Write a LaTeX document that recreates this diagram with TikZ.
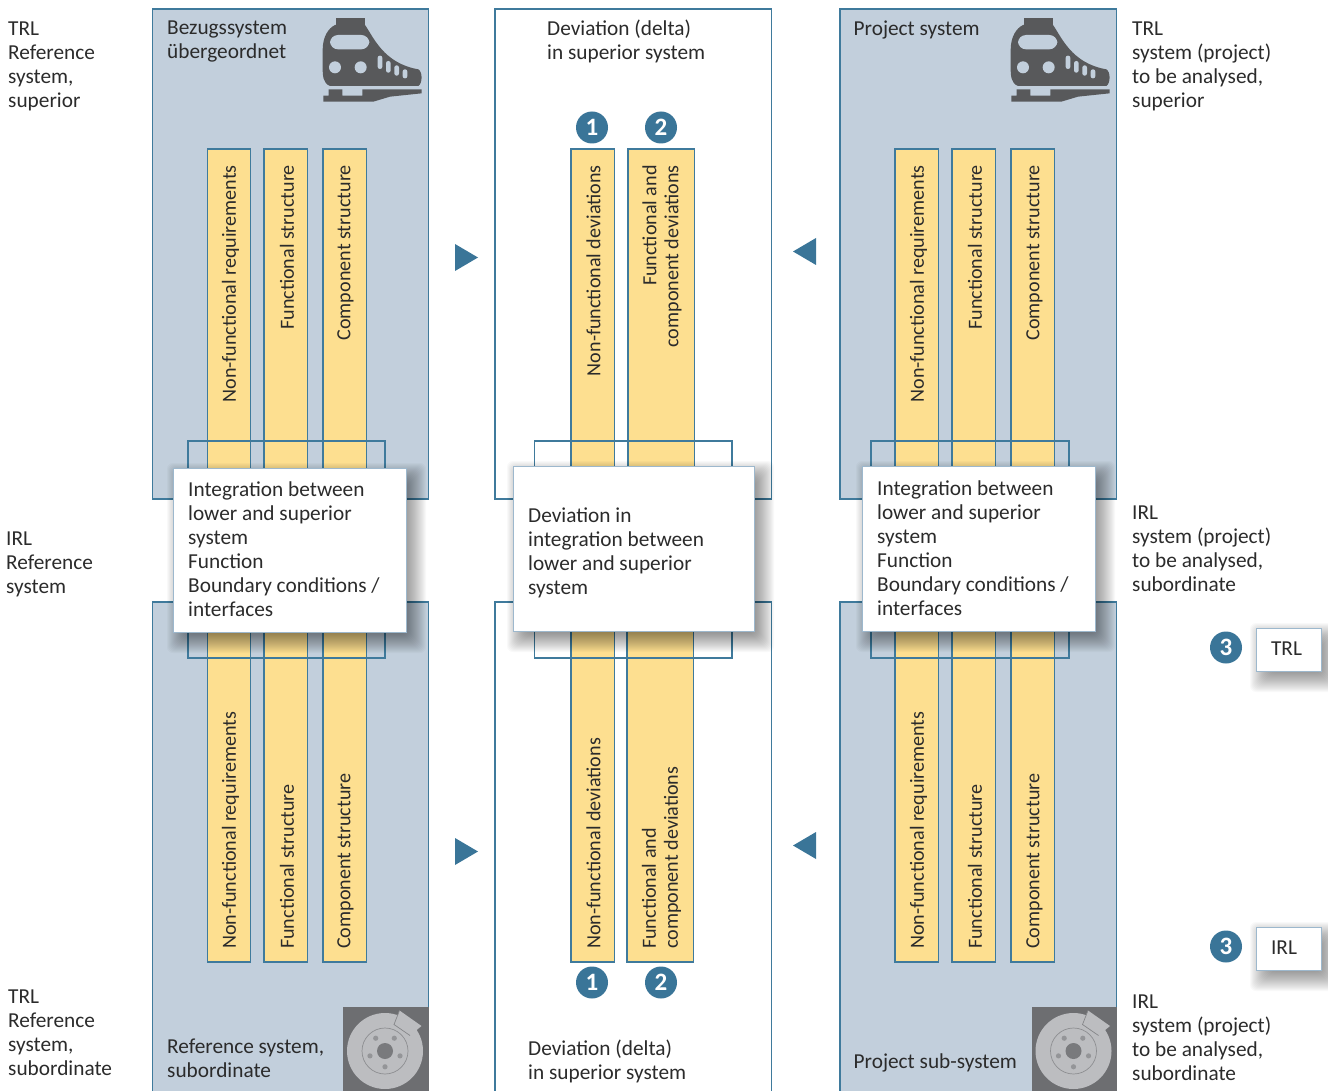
\documentclass[tikz,border=0pt]{standalone}
\usepackage{fontspec}
\setmainfont{Carlito}
\definecolor{panelc}{HTML}{C2CFDC}
\definecolor{linec}{HTML}{3F7A9C}
\definecolor{barc}{HTML}{FDDF90}
\definecolor{boxc}{HTML}{9DB8CD}
\definecolor{markc}{HTML}{3A7598}
\definecolor{iconc}{HTML}{58595B}
\definecolor{brakebg}{HTML}{6D6E71}
\definecolor{brakefg}{HTML}{BCBDC0}
\definecolor{txt}{HTML}{2B2B2B}
\newcommand{\mainsize}{\fontsize{21.3}{24}\selectfont}
\newcommand{\vertsize}{\fontsize{20.1}{22}\selectfont}
\newcommand{\marksize}{\fontsize{25}{25}\selectfont}
\tikzset{
  every node/.style={text=txt,font=\mainsize},
  panelblue/.style={draw=linec,line width=1.25pt,fill=panelc},
  panelwhite/.style={draw=linec,line width=1.25pt,fill=white},
  barbox/.style={draw=linec,line width=1.25pt,fill=barc},
  innerbox/.style={draw=linec,line width=1.25pt},
  whitebox/.style={draw=boxc,line width=1.4pt,fill=white,inner sep=0pt,anchor=north west},
  lbl/.style={anchor=north west,align=left,inner sep=0pt},
  vtop/.style={rotate=90,anchor=east,inner sep=0pt,font=\vertsize},
  vbot/.style={rotate=90,anchor=west,inner sep=0pt,font=\vertsize},
  vtopm/.style={rotate=90,anchor=east,inner sep=0pt,align=right,font=\vertsize},
  vbotm/.style={rotate=90,anchor=west,inner sep=0pt,align=left,font=\vertsize},
  markdot/.style={circle,fill=markc,minimum size=32pt,inner sep=0pt,text=white,font=\bfseries\marksize},
  tri/.style={fill=markc},
}
\newcommand{\softshadow}[4]{%
  \foreach \k in {-10,...,13}{
    \fill[black,opacity=0.025,rounded corners=6pt]
      ({#1+7-\k},{#2+8-\k}) rectangle ({#3+7+\k},{#4+8+\k});
  }}
\newcommand{\trainicon}[1]{%
  \begin{scope}[shift={(#1,0)},scale=1/3]
    \fill[iconc] (557,55) rectangle (645,80);
    \fill[iconc] (555,75) -- (645,75) .. controls (670,110) and (700,190) .. (805,208)
      .. controls (818,215) and (818,250) .. (805,258) -- (540,258)
      .. controls (518,250) and (518,225) .. (518,200) -- (518,150)
      .. controls (518,110) and (535,85) .. (555,75) -- cycle;
    \fill[panelc,rounded corners=8pt] (540,105) rectangle (658,148);
    \fill[panelc] (555,202) circle (18) (632,202) circle (18);
    \fill[panelc,rounded corners=2.2pt] (683,167) rectangle (697,207);
    \fill[panelc,rounded corners=2.2pt] (708,183) rectangle (722,218);
    \fill[panelc,rounded corners=2.2pt] (733,196) rectangle (747,227);
    \fill[panelc,rounded corners=2.2pt] (758,208) rectangle (772,235);
    \fill[iconc] (536,268) -- (577,268) -- (577,287) -- (637,287) -- (637,268) -- (815,268)
      -- (815,280) -- (720,290) -- (670,305) -- (520,305) -- (520,287) -- (536,287) -- cycle;
  \end{scope}}
\newcommand{\brakeicon}[1]{%
  \begin{scope}[shift={(#1,0)}]
    \fill[brakebg] (343,1007) rectangle (428.5,1091);
    \fill[brakefg] (385,1051) circle (38);
    \draw[brakebg!60!brakefg,line width=0.7pt] (385,1051) circle (23);
    \fill[brakebg!85!brakefg] (385,1051) circle (8);
    \foreach \a in {90,162,234,306,18}{\fill[brakebg!50!brakefg] (385,1051) ++(\a:15.8) circle (2.6);}
    \fill[brakefg] (399.5,1010.5) -- (421.5,1026) -- (410,1035.5) -- (394,1024.5) -- cycle;
    \draw[brakebg!70!brakefg,line width=0.7pt] (399.5,1010.5) -- (394,1024.5) -- (410,1035.5);
  \end{scope}}
\begin{document}
\begin{tikzpicture}[x=1pt,y=-1pt]
\useasboundingbox (0,0) rectangle (1328,1091);
% panels
\path[panelblue] (152.5,9) rectangle (428.5,499);
\path[panelblue] (152.5,602) rectangle (428.5,1100);
\path[panelwhite] (495,9) rectangle (771.5,499);
\path[panelwhite] (495,602) rectangle (771.5,1100);
\path[panelblue] (840,9) rectangle (1116.5,499);
\path[panelblue] (840,602) rectangle (1116.5,1100);
% bars
\foreach \a/\b in {207.5/250.5,264/307.5,323/366.5,895/938.5,952/995.5,1011/1054.5,571/614.5}{
  \path[barbox] (\a,149) rectangle (\b,962);
}
\path[barbox] (628,149) rectangle (694.5,550);
\path[barbox] (627,550) rectangle (693.5,962);
% inner rectangles
\path[innerbox] (188,441) rectangle (385,658);
\path[innerbox] (534.5,441) rectangle (732,658);
\path[innerbox] (871,441) rectangle (1069,658);
% icons
\trainicon{150}
\trainicon{838}
\brakeicon{0}
\brakeicon{688.5}
% shadows + boxes
\softshadow{173}{468}{406}{632}
\softshadow{513}{466}{754}{631}
\softshadow{862}{466}{1095}{631}
\softshadow{1256}{628}{1321}{671}
\softshadow{1256}{927}{1321}{970}
\node[whitebox,minimum width=233pt,minimum height=164pt] (boxa) at (173,468) {};
\node[whitebox,minimum width=240.5pt,minimum height=165pt] (boxb) at (513,466) {};
\node[whitebox,minimum width=232.5pt,minimum height=165pt] (boxc) at (862,466) {};
\node[whitebox,minimum width=64.5pt,minimum height=43pt] (trlbox) at (1256,628) {};
\node[whitebox,minimum width=64.5pt,minimum height=43pt] (irlbox) at (1256,927) {};
\node (trltxt) at (1286.5,649) {TRL};
\node (irltxt) at (1284,948) {IRL};
\node[lbl] (ta) at (188,482) {Integration between\\lower and superior\\system\\Function\\Boundary conditions /\\interfaces};
\node[lbl] (tb) at (528,507.5) {Deviation in\\integration between\\lower and superior\\system};
\node[lbl] (tc) at (877,481) {Integration between\\lower and superior\\system\\Function\\Boundary conditions /\\interfaces};
% panel titles
\node[lbl] (p1) at (167,21) {Bezugssystem\\übergeordnet};
\node[lbl] (p2) at (547,20) {Deviation (delta)\\in superior system};
\node[lbl] (p3) at (853.5,21) {Project system};
\node[lbl] (p4) at (167,1039) {Reference system,\\subordinate};
\node[lbl] (p5) at (528,1039.5) {Deviation (delta)\\in superior system};
\node[lbl] (p6) at (853.5,1054) {Project sub-system};
% side labels
\node[lbl] (s1) at (8,21.5) {TRL\\Reference\\system,\\superior};
\node[lbl] (s2) at (6,532) {IRL\\Reference\\system};
\node[lbl] (s3) at (8,989.5) {TRL\\Reference\\system,\\subordinate};
\node[lbl] (s4) at (1132,21.5) {TRL\\system (project)\\to be analysed,\\superior};
\node[lbl] (s5) at (1132,505.5) {IRL\\system (project)\\to be analysed,\\subordinate};
\node[lbl] (s6) at (1132,994.5) {IRL\\system (project)\\to be analysed,\\subordinate};
% vertical bar texts
\node[vtop] (v1) at (230.5,165) {Non-functional requirements};
\node[vtop] (v2) at (287,165) {Functional structure};
\node[vtop] (v3) at (345.5,165) {Component structure};
\node[vbot] (v4) at (230.5,949) {Non-functional requirements};
\node[vbot] (v5) at (287,949) {Functional structure};
\node[vbot] (v6) at (345.5,949) {Component structure};
\node[vtop] (v7) at (918.5,165) {Non-functional requirements};
\node[vtop] (v8) at (975,165) {Functional structure};
\node[vtop] (v9) at (1034.5,165) {Component structure};
\node[vbot] (v10) at (918.5,949) {Non-functional requirements};
\node[vbot] (v11) at (975,949) {Functional structure};
\node[vbot] (v12) at (1034.5,949) {Component structure};
\node[vtop] (v13) at (593.5,165) {Non-functional deviations};
\node[vbot] (v14) at (593.5,949) {Non-functional deviations};
\node[vtopm] (v15) at (662,165) {Functional and\\component deviations};
\node[vbotm] (v16) at (661.5,949) {Functional and\\component deviations};
% triangles
\fill[tri] (455,244) -- (455,271) -- (478,257.5) -- cycle;
\fill[tri] (455,838) -- (455,865) -- (478,851.5) -- cycle;
\fill[tri] (816,238) -- (816,265) -- (793,251.5) -- cycle;
\fill[tri] (816,832) -- (816,859) -- (793,845.5) -- cycle;
% numbered dots
\node[markdot] (m1) at (592,127.5) {1};
\node[markdot] (m2) at (661,127.5) {2};
\node[markdot] (m3) at (592,982.5) {1};
\node[markdot] (m4) at (661,982.5) {2};
\node[markdot] (m5) at (1226,647.5) {3};
\node[markdot] (m6) at (1226,946.5) {3};
\end{tikzpicture}
\end{document}
